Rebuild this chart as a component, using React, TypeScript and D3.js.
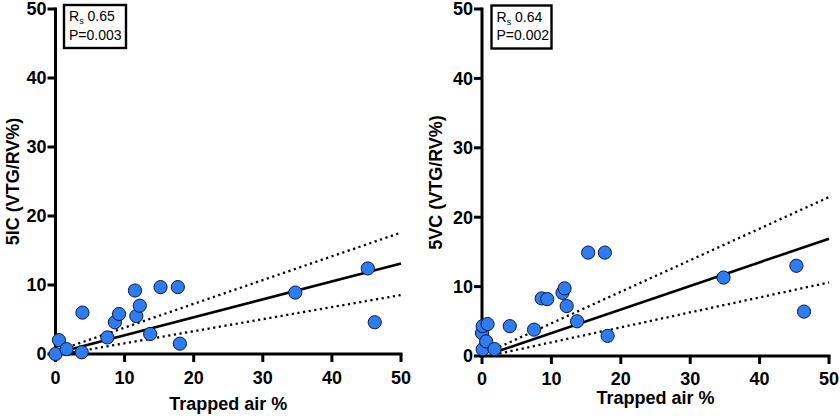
import React from "react";
import * as d3 from "d3";

const xTicks = [0, 10, 20, 30, 40, 50];
const yTicks = [0, 10, 20, 30, 40, 50];

// Left panel: 5IC vs trapped air
const icX = [0, 0.5, 1.6, 3.8, 3.9, 7.5, 8.6, 9.2, 11.5, 11.7, 12.2, 13.7, 15.2, 17.7, 18.0, 34.7, 45.2, 46.2];
const icY = [0, 2.0, 0.7, 0.25, 6.0, 2.4, 4.6, 5.8, 9.2, 5.5, 7.0, 2.9, 9.7, 9.7, 1.5, 8.9, 12.4, 4.6];
const icFit = [[2.5, 0.77], [50, 13.1]];
const icUpper = [[2.5, 1.24], [50, 17.6]];
const icLower = [[2.5, 0.24], [50, 8.55]];

// Right panel: 5VC vs trapped air
const vcX = [0.1, 0, 0.1, 0.8, 0.6, 1.8, 4.0, 7.5, 8.6, 9.4, 11.6, 11.9, 12.2, 13.7, 15.3, 17.7, 18.1, 34.8, 45.3, 46.4];
const vcY = [0.97, 3.3, 4.3, 4.6, 2.1, 1.0, 4.3, 3.8, 8.3, 8.2, 9.1, 9.75, 7.2, 5.0, 14.9, 14.9, 2.9, 11.3, 13.0, 6.4];
const vcFit = [[2.5, 0.75], [50, 16.9]];
const vcUpper = [[2.5, 1.3], [50, 22.9]];
const vcLower = [[2.5, 0.35], [50, 10.6]];

const FONT = "Liberation Sans, Arial, Helvetica, sans-serif";
const BLUE = "#2d7cf2";

type PanelProps = {
  x0: number; x1: number; y0: number; y1: number;
  xs: number[]; ys: number[];
  fit: number[][]; upper: number[][]; lower: number[][];
  yTitle: string; rs: string; p: string;
  yTitleX: number; xTitleY: number; tickLabelY: number;
  box: [number, number, number, number];
};

function Panel(props: PanelProps) {
  const { x0, x1, y0, y1, xs, ys, fit, upper, lower, yTitle, rs, p, yTitleX, xTitleY, tickLabelY, box } = props;
  const x = d3.scaleLinear().domain([0, 50]).range([x0, x1]);
  const y = d3.scaleLinear().domain([0, 50]).range([y0, y1]);
  const line = d3.line<number[]>().x((d) => x(d[0])).y((d) => y(d[1]));
  const [bx, by, bw, bh] = box;
  return (
    <g>
      {/* axes */}
      <line x1={x0} x2={x0} y1={y1 - 1.5} y2={y0 + 1.5} stroke="#000" strokeWidth={3} />
      <line x1={x0 - 1.5} x2={x1 + 1.5} y1={y0} y2={y0} stroke="#000" strokeWidth={3} />
      {yTicks.map((t) => (
        <g key={"y" + t}>
          <line x1={x0 - 8} x2={x0} y1={y(t)} y2={y(t)} stroke="#000" strokeWidth={3} />
          <text x={x0 - 9} y={y(t)} dy="0.36em" textAnchor="end" fontFamily={FONT} fontWeight="bold" fontSize={18}>{t}</text>
        </g>
      ))}
      {xTicks.map((t) => (
        <g key={"x" + t}>
          <line x1={x(t)} x2={x(t)} y1={y0} y2={y0 + 8} stroke="#000" strokeWidth={3} />
          <text x={x(t)} y={tickLabelY} textAnchor="middle" fontFamily={FONT} fontWeight="bold" fontSize={18}>{t}</text>
        </g>
      ))}
      <text x={(x0 + x1) / 2} y={xTitleY} textAnchor="middle" fontFamily={FONT} fontWeight="bold" fontSize={18}>Trapped air %</text>
      <text transform={`translate(${yTitleX},${(y0 + y1) / 2}) rotate(-90)`} textAnchor="middle" fontFamily={FONT} fontWeight="bold" fontSize={18}>{yTitle}</text>
      {/* fit lines */}
      <path d={line(upper) || ""} fill="none" stroke="#000" strokeWidth={2.3} strokeDasharray="2.2 3.5" />
      <path d={line(lower) || ""} fill="none" stroke="#000" strokeWidth={2.3} strokeDasharray="2.2 3.5" />
      <path d={line(fit) || ""} fill="none" stroke="#000" strokeWidth={2.6} />
      {/* points */}
      {xs.map((v, i) => (
        <circle key={i} cx={x(v)} cy={y(ys[i])} r={6.6} fill={BLUE} stroke="#10183a" strokeWidth={1} />
      ))}
      {/* stats box */}
      <rect x={bx} y={by} width={bw} height={bh} fill="#fff" stroke="#000" strokeWidth={2.4} />
      <text x={bx + 5} y={by + 16} fontFamily={FONT} fontSize={14}>
        R<tspan fontSize={9} dy={3}>s</tspan><tspan dy={-3}> {rs}</tspan>
      </text>
      <text x={bx + 5} y={by + 34.5} fontFamily={FONT} fontSize={14}>P={p}</text>
    </g>
  );
}

export default function App() {
  return (
    <svg width={840} height={420} viewBox="0 0 840 420" style={{ display: "block", position: "absolute", left: 0, top: 0, background: "#fff" }}>
      <rect x={0} y={0} width={840} height={420} fill="#fff" />
      <Panel x0={55.5} x1={401} y0={354} y1={9} xs={icX} ys={icY} fit={icFit} upper={icUpper} lower={icLower}
        yTitle="5IC (VTG/RV%)" rs="0.65" p="0.003" yTitleX={19} xTitleY={410} tickLabelY={384}
        box={[64, 5, 62, 43]} />
      <Panel x0={482} x1={829} y0={356} y1={9} xs={vcX} ys={vcY} fit={vcFit} upper={vcUpper} lower={vcLower}
        yTitle="5VC (VTG/RV%)" rs="0.64" p="0.002" yTitleX={442} xTitleY={404} tickLabelY={385}
        box={[491.5, 5.5, 60, 43]} />
    </svg>
  );
}
